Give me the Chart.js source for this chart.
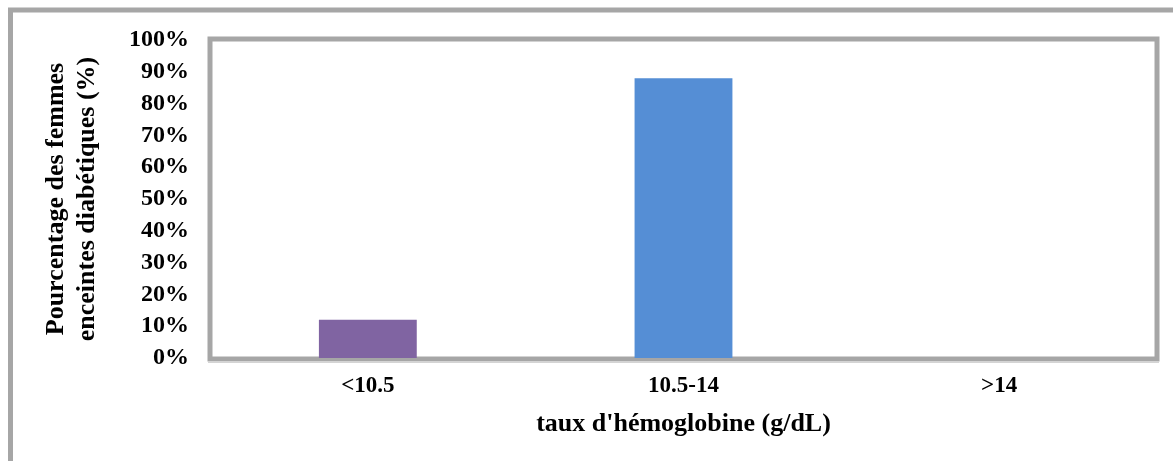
<!DOCTYPE html>
<html>
<head>
<meta charset="utf-8">
<script src="https://cdn.jsdelivr.net/npm/chart.js@4"></script>
<style>
  html, body { margin: 0; padding: 0; background: #fff; }
  #wrap { width: 1173px; height: 461px; position: relative; }
</style>
</head>
<body>
<div id="wrap"><canvas id="hbChart"></canvas></div>
<script>
// Hemoglobin groups and share of pregnant diabetic women (%)
const categories = ['<10.5', '10.5-14', '>14'];
const percentages = [12, 88, 0];
const barColors = ['#8064a2', '#558ed5', '#9bbb59'];
const yTicks = [0, 10, 20, 30, 40, 50, 60, 70, 80, 90, 100];

const serif = "'Liberation Serif', 'Times New Roman', serif";
const frameGray = '#a6a6a6';

// outer border (top + left) and the thick frame around the plot area
const framePlugin = {
    id: 'frames',
    beforeDatasetsDraw(chart) {
        const { ctx, chartArea: a } = chart;
        ctx.save();
        ctx.strokeStyle = frameGray;
        ctx.lineWidth = 5;
        ctx.beginPath();
        ctx.moveTo(10.5, chart.height);
        ctx.lineTo(10.5, 10);
        ctx.lineTo(chart.width, 10);
        ctx.stroke();
        ctx.strokeRect(a.left, a.top - 1, a.right - a.left, a.bottom - a.top + 2);
        ctx.strokeStyle = '#d4d4d4';
        ctx.lineWidth = 2;
        ctx.beginPath();
        ctx.moveTo(a.left - 2, a.bottom + 4);
        ctx.lineTo(a.right + 2, a.bottom + 4);
        ctx.stroke();
        ctx.restore();
    }
};

new Chart(document.getElementById('hbChart'), {
    type: 'bar',
    data: {
        labels: categories,
        datasets: [{
            data: percentages,
            backgroundColor: barColors,
            borderWidth: 0,
            barPercentage: 0.31,
            categoryPercentage: 1
        }]
    },
    options: {
        responsive: true,
        maintainAspectRatio: false,
        animation: false,
        layout: { padding: { left: 0, top: 40, right: 16, bottom: 0 } },
        plugins: {
            legend: { display: false },
            tooltip: { enabled: false }
        },
        scales: {
            x: {
                grid: { display: false, drawTicks: false },
                border: { display: false },
                ticks: {
                    color: '#000',
                    padding: 14,
                    font: { family: serif, size: 23, weight: 'bold' }
                },
                title: {
                    display: true,
                    text: "taux d'hémoglobine (g/dL)",
                    color: '#000',
                    padding: { top: 0, bottom: 21 },
                    font: { family: serif, size: 26, weight: 'bold' }
                },
                afterFit(scale) { scale.height = 103; }
            },
            y: {
                min: 0,
                max: 100,
                grid: { display: false, drawTicks: false },
                border: { display: false },
                afterBuildTicks(scale) {
                    scale.ticks = yTicks.map(v => ({ value: v }));
                },
                ticks: {
                    color: '#000',
                    padding: 21,
                    font: { family: serif, size: 24, weight: 'bold' },
                    callback: v => v + '%'
                },
                title: {
                    display: true,
                    text: ['Pourcentage des femmes', 'enceintes diabétiques (%)'],
                    color: '#000',
                    padding: { top: 41, bottom: 0 },
                    font: { family: serif, size: 26, weight: 'bold', lineHeight: 1.19 }
                },
                afterFit(scale) { scale.width = 210; }
            }
        }
    },
    plugins: [framePlugin]
});
</script>
</body>
</html>
